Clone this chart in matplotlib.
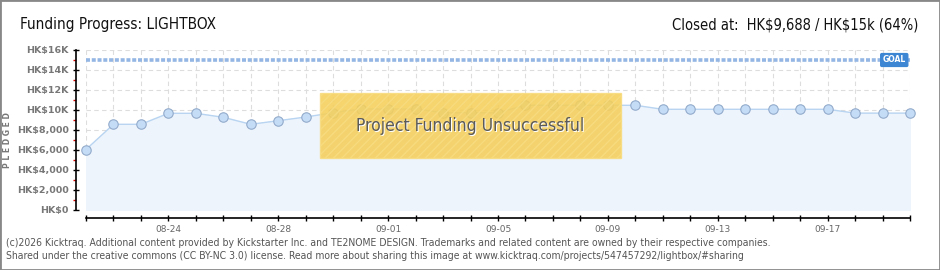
import matplotlib
matplotlib.use("Agg")
import matplotlib.pyplot as plt
from matplotlib.patches import Rectangle

# data
dates = [
    "08-21", "08-22", "08-23", "08-24", "08-25", "08-26", "08-27", "08-28",
    "08-29", "08-30", "08-31", "09-01", "09-02", "09-03", "09-04", "09-05",
    "09-06", "09-07", "09-08", "09-09", "09-10", "09-11", "09-12", "09-13",
    "09-14", "09-15", "09-16", "09-17", "09-18", "09-19", "09-20",
]
pledged = [
    6050, 8570, 8570, 9670, 9670, 9270, 8570, 8930,
    9300, 9730, 10100, 10100, 10100, 9730, 9730, 9730,
    10470, 10470, 10470, 10470, 10470, 10070, 10070, 10070,
    10070, 10070, 10070, 10070, 9688, 9688, 9688,
]
goal = 15000
y_ticks = [0, 2000, 4000, 6000, 8000, 10000, 12000, 14000, 16000]
y_tick_labels = ["HK$0", "HK$2,000", "HK$4,000", "HK$6,000", "HK$8,000",
                 "HK$10K", "HK$12K", "HK$14K", "HK$16K"]
x_label_dates = ["08-24", "08-28", "09-01", "09-05", "09-09", "09-13", "09-17"]

title = "Funding Progress: LIGHTBOX"
status = "Closed at:  HK\\$9,688 / HK\\$15k (64%)"
footer = [
    "(c)2026 Kicktraq. Additional content provided by Kickstarter Inc. and TE2NOME DESIGN. "
    "Trademarks and related content are owned by their respective companies.",
    "Shared under the creative commons (CC BY-NC 3.0) license. Read more about sharing this "
    "image at www.kicktraq.com/projects/547457292/lightbox/#sharing",
]

W, H = 940, 270
fig = plt.figure(figsize=(W / 100, H / 100), dpi=100)
fig.patch.set_facecolor("white")

cond = dict(family="DejaVu Sans", fontstretch="condensed")

ax = fig.add_axes([86 / W, 60 / H, 824 / W, 160 / H])
x = list(range(len(dates)))

ax.fill_between(x, pledged, 0, color="#edf4fc", zorder=1)
ax.plot(x, pledged, color="#b8d4f1", lw=1.0, zorder=3)
ax.plot(x, pledged, "o", ms=6.8, mfc="#c4dcf6", mec="#93abcb", mew=0.8,
        zorder=4, clip_on=False)

# goal line
ax.axhline(goal, color="#93b6e4", lw=2.6, linestyle=(0, (1.1, 0.5)), zorder=2)
ax.text(0.995, goal, "GOAL", transform=ax.get_yaxis_transform(), ha="right",
        va="center", fontsize=5.5, fontweight="bold", color="white",
        family="DejaVu Sans", zorder=6,
        bbox=dict(boxstyle="round,pad=0.25,rounding_size=0.15",
                  fc="#3d86d4", ec="#3d86d4"))

ax.set_xlim(0, len(dates) - 1)
ax.set_ylim(0, 16000)

ax.set_xticks(x)
ax.set_xticklabels([d if d in x_label_dates else "" for d in dates])
ax.set_yticks(y_ticks)
ax.set_yticklabels(y_tick_labels)
ax.set_yticks([1000, 3000, 5000, 7000, 9000, 11000, 13000, 15000], minor=True)

ax.grid(True, color="#dddddd", linestyle=(0, (4, 3)), lw=0.8, zorder=0)
ax.set_axisbelow(True)

for s in ["top", "right"]:
    ax.spines[s].set_visible(False)
ax.spines["left"].set_position(("outward", 7.2))
ax.spines["bottom"].set_position(("outward", 6.0))
ax.spines["left"].set_linewidth(1.2)
ax.spines["bottom"].set_linewidth(1.2)

ax.tick_params(axis="x", which="major", direction="inout", length=5, width=1,
               labelsize=6.5, labelcolor="#666666", pad=2)
ax.tick_params(axis="y", which="major", direction="inout", length=4.5, width=1,
               labelsize=6.8, labelcolor="#777777", pad=3)
ax.tick_params(axis="y", which="minor", direction="out", length=2.2, width=1,
               color="#e00000")
for lab in ax.get_yticklabels():
    lab.set_fontweight("bold")

fig.text(8 / W, 130 / H, "P L E D G E D", rotation=90, ha="center", va="center",
         fontsize=5.5, fontweight="bold", color="#777777")

# titles
fig.text(20 / W, 1 - 25 / H, title, ha="left", va="center", fontsize=11,
         color="#111111", **cond)
fig.text(918 / W, 1 - 25 / H, status, ha="right", va="center", fontsize=10.5,
         color="#111111", **cond)

# unsuccessful overlay
plt.rcParams["hatch.color"] = "#efc650"
fig.patches.append(Rectangle((320 / W, 1 - 158 / H), 301 / W, 65 / H,
                             transform=fig.transFigure, fc="#f5cf5a", alpha=0.88,
                             ec="#f7dc80", lw=1, hatch="////", zorder=10))
fig.text(471 / W, 1 - 126.5 / H, "Project Funding Unsuccessful", ha="center",
         va="center", fontsize=12.5, color="white", zorder=11, **cond)
fig.text(470 / W, 1 - 126 / H, "Project Funding Unsuccessful", ha="center",
         va="center", fontsize=12.5, color="#5a5a5a", zorder=12, **cond)

# footer
fig.text(6 / W, 1 - 243 / H, footer[0], ha="left", va="center", fontsize=7.45,
         color="#555555", **cond)
fig.text(6 / W, 1 - 256 / H, footer[1], ha="left", va="center", fontsize=7.45,
         color="#555555", **cond)

# frame
fig.patches.append(Rectangle((0, 0), 1, 1, transform=fig.transFigure, fill=False,
                             ec="#888888", lw=2, zorder=20))

fig.savefig("out.png", dpi=100)
